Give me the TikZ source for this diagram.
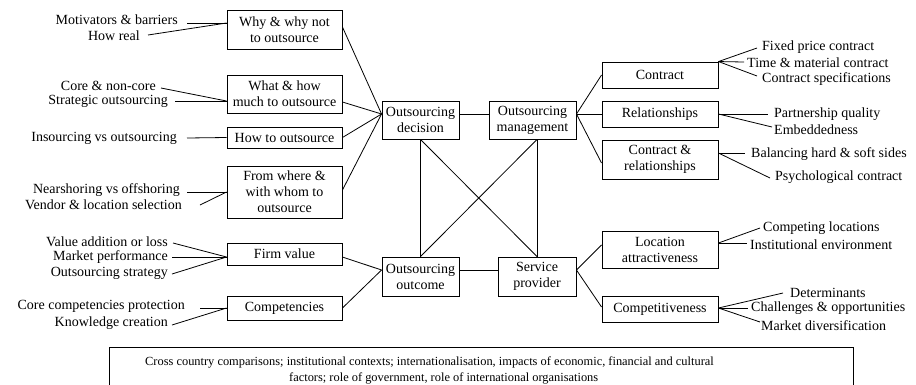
\documentclass[tikz,border=0pt]{standalone}
\usepackage{fontspec}
\setmainfont{Liberation Serif}
\begin{document}
\begin{tikzpicture}[x=1pt,y=-1pt,
  every node/.style={font=\fontsize{14}{16}\selectfont},
  box/.style={draw, line width=0.9pt, inner sep=0pt, align=center, minimum width=#1},
  box/.default=115pt,
  lbl/.style={inner sep=0pt, anchor=east},
  rbl/.style={inner sep=0pt, anchor=west},
  ln/.style={line width=0.8pt}]
\useasboundingbox (0,0) rectangle (916,384);
% left boxes
\node[box, minimum height=39pt] (why) at (284.5,29.5) {Why \& why not\\to outsource};
\node[box, minimum height=38pt] (what) at (284.5,94) {What \& how\\much to outsource};
\node[box, minimum height=21pt] (how) at (284.5,137.5) {How to outsource};
\node[box, minimum height=52pt] (from) at (284.5,192) {From where \&\\with whom to\\outsource};
\node[box, minimum height=22pt] (firm) at (284.5,254) {Firm value};
\node[box, minimum height=24pt] (comp) at (284.5,308) {Competencies};
% hub boxes
\node[box=77pt, minimum height=38pt] (dec) at (420.5,120) {Outsourcing\\decision};
\node[box=87pt, minimum height=38pt] (mgmt) at (532.5,120) {Outsourcing\\management};
\node[box=77pt, minimum height=39pt] (out) at (420.5,276.5) {Outsourcing\\outcome};
\node[box=78pt, minimum height=39pt] (prov) at (537,276.5) {Service\\provider};
% right boxes
\node[box=116pt, minimum height=26pt] (contract) at (660,75) {Contract};
\node[box=116pt, minimum height=26pt] (rel) at (660,114) {Relationships};
\node[box=116pt, minimum height=39pt] (cr) at (660,159.5) {Contract \&\\relationships};
\node[box=116pt, minimum height=37pt] (loc) at (660,249.5) {Location\\attractiveness};
\node[box=116pt, minimum height=26pt] (compet) at (660,309) {Competitiveness};
% bottom box (its lower edge lies below the picture, as in the reference)
\node[draw, line width=0.9pt, minimum width=744pt, minimum height=50pt, inner sep=0pt] (bot) at (481,372) {};
\node[inner sep=0pt, anchor=west, align=left, font=\fontsize{12.4}{16}\selectfont] (bottxt) at (145,370.5) {Cross country comparisons; institutional contexts; internationalisation, impacts of economic, financial and cultural\\\hspace*{144pt}factors; role of government, role of international organisations};

% hub points
\coordinate (decL) at ([yshift=6pt]dec.west);
\coordinate (decR) at ([yshift=6pt]dec.east);
\coordinate (mgmtL) at ([yshift=6pt]mgmt.west);
\coordinate (mgmtR) at ([yshift=6pt]mgmt.east);
\coordinate (outL) at ([yshift=6.5pt]out.west);
\coordinate (outR) at ([yshift=6.5pt]out.east);
\coordinate (provL) at ([yshift=6.5pt]prov.west);
\coordinate (provR) at ([yshift=6.5pt]prov.east);
\coordinate (mgmtB) at ([xshift=4.5pt]mgmt.south);

% hub connectors
\draw[ln] (decR) -- (mgmtL);
\draw[ln] (outR) -- (provL);
\draw[ln] (dec.south) -- (out.north);
\draw[ln] (mgmtB) -- (prov.north);
\draw[ln] (dec.south) -- (prov.north);
\draw[ln] (mgmtB) -- (out.north);
\draw[ln] ([yshift=2.5pt]why.east) -- (decL);
\draw[ln] ([yshift=-8pt]what.east) -- (decL);
\draw[ln] (how.east) -- (decL);
\draw[ln] ([yshift=2pt]from.east) -- (decL);
\draw[ln] ([yshift=-3pt]firm.east) -- (outL);
\draw[ln] (comp.east) -- (outL);
\draw[ln] (mgmtR) -- (contract.west);
\draw[ln] (mgmtR) -- (rel.west);
\draw[ln] (mgmtR) -- ([yshift=-3.5pt]cr.west);
\draw[ln] (provR) -- ([yshift=4.5pt]loc.west);
\draw[ln] (provR) -- ([yshift=2pt]compet.west);

% left labels
\node[lbl] (l1) at (178,20) {Motivators \& barriers};
\node[lbl] (l2) at (140,36) {How real};
\node[lbl] (l3) at (156,86) {Core \& non-core};
\node[lbl] (l4) at (168,101) {Strategic outsourcing};
\node[lbl] (l5) at (177,138) {Insourcing vs outsourcing};
\node[lbl] (l6) at (180,190) {Nearshoring vs offshoring};
\node[lbl] (l7) at (182,205) {Vendor \& location selection};
\node[lbl] (l8) at (168,242) {Value addition or loss};
\node[lbl] (l9) at (168,257) {Market performance};
\node[lbl] (l10) at (168,273) {Outsourcing strategy};
\node[lbl] (l11) at (185,306) {Core competencies protection};
\node[lbl] (l12) at (168,323) {Knowledge creation};
\coordinate (whyP) at ([yshift=6.5pt]why.west);
\coordinate (whatP) at ([yshift=-7pt]what.west);
\coordinate (fromP) at (from.west);
\coordinate (firmP) at ([yshift=-3pt]firm.west);
\draw[ln] ([xshift=9pt,yshift=-3pt]l1.east) -- (whyP);
\draw[ln] ([xshift=8pt,yshift=1pt]l2.east) -- (whyP);
\draw[ln] ([xshift=5pt,yshift=-2pt]l3.east) -- (whatP);
\draw[ln] ([xshift=7pt]l4.east) -- (whatP);
\draw[ln] ([xshift=10pt]l5.east) -- (how.west);
\draw[ln] ([xshift=7pt,yshift=-2pt]l6.east) -- (fromP);
\draw[ln] ([xshift=18pt]l7.east) -- (fromP);
\draw[ln] ([xshift=5pt,yshift=-1pt]l8.east) -- (firmP);
\draw[ln] ([xshift=4pt]l9.east) -- (firmP);
\draw[ln] ([xshift=4pt,yshift=-1pt]l10.east) -- (firmP);
\draw[ln] ([xshift=15pt,yshift=-2pt]l11.east) -- (comp.west);
\draw[ln] ([xshift=4pt,yshift=-2pt]l12.east) -- (comp.west);

% right labels
\node[rbl] (r1) at (762,47) {Fixed price contract};
\node[rbl] (r2) at (747,63) {Time \& material contract};
\node[rbl] (r3) at (762,79) {Contract specifications};
\node[rbl] (r4) at (774,114) {Partnership quality};
\node[rbl] (r5) at (774,130) {Embeddedness};
\node[rbl] (r6) at (751,154) {Balancing hard \& soft sides};
\node[rbl] (r7) at (775,177) {Psychological contract};
\node[rbl] (r8) at (763,228) {Competing locations};
\node[rbl] (r9) at (750,245) {Institutional environment};
\node[rbl] (r10) at (790,293) {Determinants};
\node[rbl] (r11) at (751,308) {Challenges \& opportunities};
\node[rbl] (r12) at (761,326) {Market diversification};
\coordinate (crP) at ([yshift=6.5pt]cr.east);
\coordinate (locP) at ([yshift=6.5pt]loc.east);
\coordinate (competP) at ([yshift=1pt]compet.east);
\draw[ln] (contract.north east) -- ([xshift=-5pt,yshift=-1pt]r1.west);
\draw[ln] (contract.north east) -- ([xshift=-3pt,yshift=1pt]r2.west);
\draw[ln] (contract.north east) -- ([xshift=-5pt,yshift=3pt]r3.west);
\draw[ln] (rel.east) -- ([xshift=-6pt]r4.west);
\draw[ln] (rel.east) -- ([xshift=-2pt,yshift=3pt]r5.west);
\draw[ln] (crP) -- ([xshift=-6pt,yshift=1pt]r6.west);
\draw[ln] (crP) -- ([xshift=-5pt,yshift=-1pt]r7.west);
\draw[ln] (locP) -- ([xshift=-3pt]r8.west);
\draw[ln] (locP) -- ([xshift=-3pt,yshift=2pt]r9.west);
\draw[ln] (competP) -- ([xshift=-7pt]r10.west);
\draw[ln] (competP) -- ([xshift=-3pt]r11.west);
\draw[ln] (competP) -- ([xshift=-1pt,yshift=4pt]r12.west);
\end{tikzpicture}
\end{document}
